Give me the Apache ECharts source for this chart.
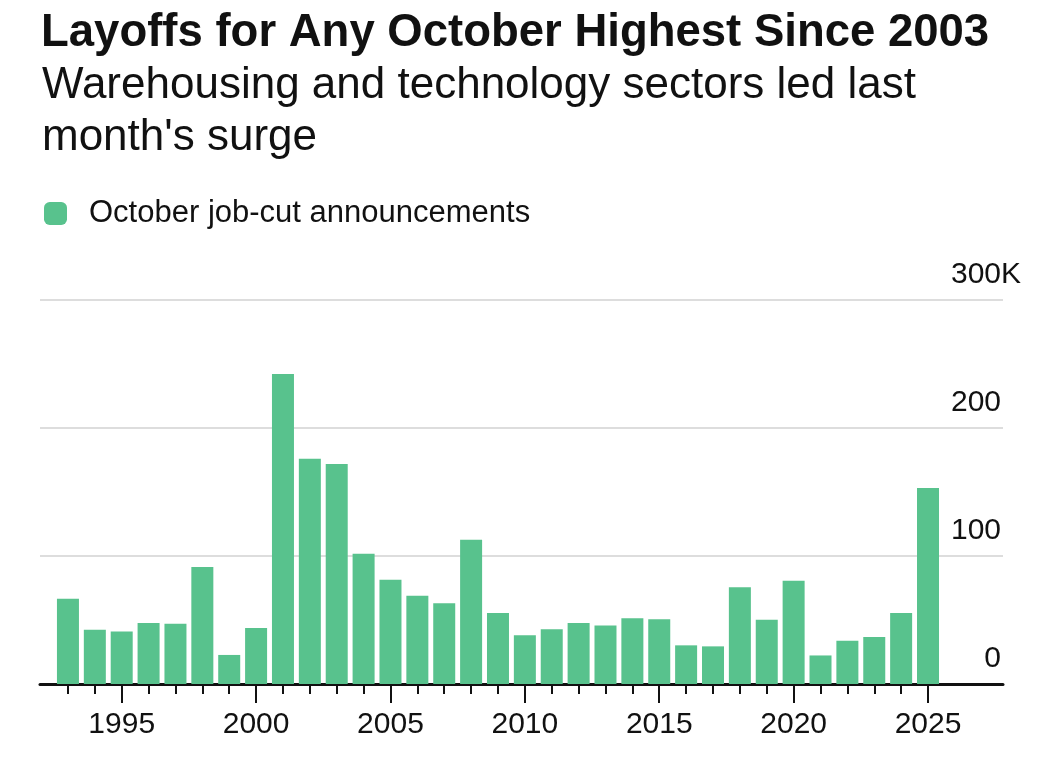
<!DOCTYPE html>
<html>
<head>
<meta charset="utf-8">
<script src="https://cdn.jsdelivr.net/npm/echarts@6/dist/echarts.min.js"></script>
<style>
  html, body { margin: 0; padding: 0; background: #fff; }
  #chart { width: 1044px; height: 767px; }
</style>
</head>
<body>
<div id="chart"></div>
<script>
// October job-cut announcements, thousands
const years = [
  1993, 1994, 1995, 1996, 1997, 1998, 1999, 2000, 2001, 2002, 2003,
  2004, 2005, 2006, 2007, 2008, 2009, 2010, 2011, 2012, 2013, 2014,
  2015, 2016, 2017, 2018, 2019, 2020, 2021, 2022, 2023, 2024, 2025
]
const jobCuts = [
  66.6, 42.4, 41.1, 47.7, 47.1, 91.4, 22.7, 43.7, 242.2, 176.0, 171.9,
  101.8, 81.5, 69.0, 63.0, 112.7, 55.5, 38.0, 42.7, 47.7, 45.8, 51.3,
  50.5, 30.2, 29.4, 75.5, 50.2, 80.7, 22.3, 33.8, 36.7, 55.5, 153.1
]
const yearLabels = [1995, 2000, 2005, 2010, 2015, 2020, 2025]
const yMax = 300
const yUnit = 'K'

const titleText = 'Layoffs for Any October Highest Since 2003'
const subtitleText = "Warehousing and technology sectors led last\nmonth's surge"
const seriesName = 'October job-cut announcements'

const font = '"Liberation Sans", Arial, Helvetica, sans-serif'
const ink = '#111111'
const green = '#58c28d'
const labelSize = 30

const chart = echarts.init(document.getElementById('chart'), null, { renderer: 'canvas' })

chart.setOption({
  backgroundColor: '#ffffff',
  animation: false,
  textStyle: { fontFamily: font },
  title: [
    {
      text: titleText,
      left: 36,
      top: 3,
      textStyle: { fontFamily: font, fontSize: 45.5, fontWeight: 'bold', color: ink, lineHeight: 50 }
    },
    {
      text: subtitleText,
      left: 37,
      top: 55,
      textStyle: { fontFamily: font, fontSize: 44, fontWeight: 'normal', color: ink, lineHeight: 52 }
    }
  ],
  legend: {
    left: 44,
    top: 198,
    padding: 0,
    itemWidth: 23,
    itemHeight: 23,
    icon: 'roundRect',
    textStyle: { fontFamily: font, fontSize: 31, color: ink, padding: [0, 0, 0, 17] },
    data: [seriesName]
  },
  grid: { left: 40, right: 41, top: 300, bottom: 83, containLabel: false },
  xAxis: [
    {
      type: 'value',
      min: 1991.96,
      max: 2027.79,
      axisLine: { show: true, lineStyle: { color: ink, width: 3 } },
      axisTick: { show: true, customValues: years, length: 10, lineStyle: { color: ink, width: 2 } },
      axisLabel: { show: false },
      splitLine: { show: false }
    },
    {
      type: 'value',
      min: 1991.96,
      max: 2027.79,
      position: 'bottom',
      axisLine: { show: false },
      axisTick: { show: true, customValues: yearLabels, length: 19, lineStyle: { color: ink, width: 2 } },
      axisLabel: {
        customValues: yearLabels,
        margin: 26,
        fontSize: labelSize,
        color: ink,
        fontFamily: font,
        formatter: v => String(v)
      },
      splitLine: { show: false }
    }
  ],
  yAxis: {
    type: 'value',
    position: 'right',
    min: 0,
    max: yMax,
    interval: 100,
    axisLine: { show: false },
    axisTick: { show: false },
    splitLine: { lineStyle: { color: '#d2d2d2', width: 1.5 } },
    axisLabel: {
      inside: true,
      margin: 2,
      verticalAlign: 'bottom',
      padding: [0, 0, 10, 0],
      color: ink,
      fontSize: labelSize,
      fontFamily: font
    }
  },
  series: [
    {
      name: seriesName,
      type: 'bar',
      xAxisIndex: 0,
      barWidth: 22,
      itemStyle: { color: green },
      data: years.map((y, i) => [y, jobCuts[i]])
    }
  ]
})

// unit suffix hangs past the right-aligned top label, as in the original
const topY = chart.convertToPixel({ yAxisIndex: 0 }, yMax)
const labelRight = chart.convertToPixel({ xAxisIndex: 0 }, 2027.79) - 2
chart.setOption({
  graphic: [{
    type: 'text',
    x: labelRight,
    y: topY - 10,
    style: {
      text: yUnit,
      fill: ink,
      font: labelSize + 'px ' + font,
      textAlign: 'left',
      textVerticalAlign: 'bottom'
    }
  }]
})
</script>
</body>
</html>
